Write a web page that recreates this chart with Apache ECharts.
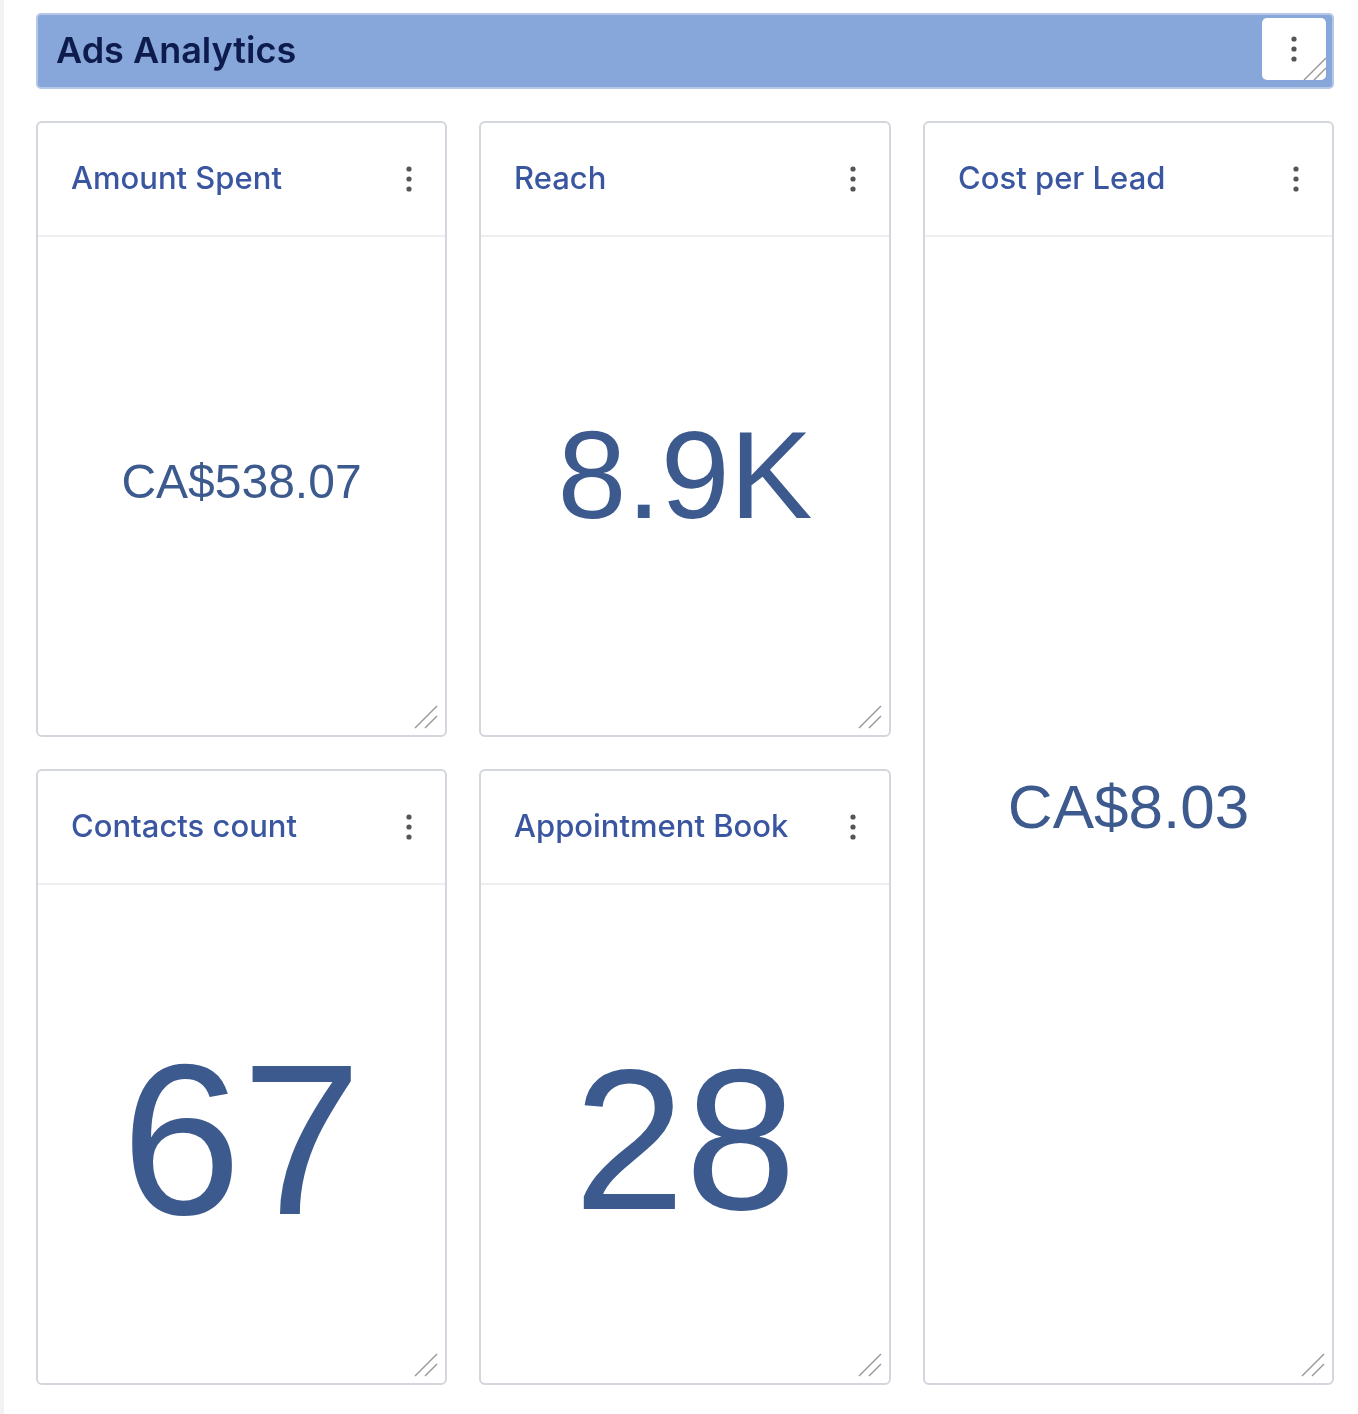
<!DOCTYPE html>
<html><head><meta charset="utf-8">
<script src="https://cdn.jsdelivr.net/npm/echarts@6/dist/echarts.min.js"></script>
<style>html,body{margin:0;padding:0;background:#fff}#c{width:1358px;height:1414px}</style>
</head><body><div id="c"></div>
<script>
const dashboardTitle = "Ads Analytics";
const cardTitles = ["Amount Spent", "Reach", "Cost per Lead", "Contacts count", "Appointment Booked"];
const cardValues = ["CA$538.07", "8.9K", "CA$8.03", "67", "28"];

const chart = echarts.init(document.getElementById('c'));
const TITLE_C = '#3a56a0', VAL_C = '#3d5a8e', BORDER = '#d3d6dc';
const cards = [
  {x:37,y:122,w:409,h:614,fs:48},
  {x:480,y:122,w:410,h:614,fs:124},
  {x:924,y:122,w:409,h:1262,fs:62},
  {x:37,y:770,w:409,h:614,fs:216},
  {x:480,y:770,w:410,h:614,fs:200}
];
const els = [];
els.push({type:'rect',shape:{x:0,y:0,width:4,height:1414},style:{fill:'#f1f2f4'}});
els.push({type:'rect',shape:{x:37,y:14,width:1296,height:74,r:4},style:{fill:'#87a6da',stroke:'#b5c6e6',lineWidth:2}});
els.push({type:'text',style:{x:56,y:52,text:dashboardTitle,fill:'#0e1b4d',font:'600 36px Inter, "Noto Sans", sans-serif',verticalAlign:'middle'}});
els.push({type:'rect',shape:{x:1262,y:18,width:64,height:62,r:5},style:{fill:'#fff'}});
function dots(cx,cy){for(let i=-1;i<=1;i++)els.push({type:'circle',shape:{cx:cx,cy:cy+i*10,r:2.6},style:{fill:'#555'}});}
function handle(x,y){
  els.push({type:'line',shape:{x1:x-22,y1:y,x2:x,y2:y-22},style:{stroke:'#999',lineWidth:1.5}});
  els.push({type:'line',shape:{x1:x-12,y1:y,x2:x,y2:y-12},style:{stroke:'#999',lineWidth:1.5}});
}
dots(1294,49); handle(1326,80);
cards.forEach((c,i)=>{
  els.push({type:'rect',shape:{x:c.x,y:c.y,width:c.w,height:c.h,r:5},style:{fill:'#fff',stroke:BORDER,lineWidth:2}});
  els.push({type:'line',shape:{x1:c.x+1,y1:c.y+114,x2:c.x+c.w-1,y2:c.y+114},style:{stroke:'#e6e8eb',lineWidth:1.5}});
  els.push({type:'text',style:{x:c.x+34,y:c.y+58,text:cardTitles[i],width:291,overflow:'truncate',ellipsis:'',fill:TITLE_C,font:'500 31px Inter, "Noto Sans", sans-serif',verticalAlign:'middle'}});
  dots(c.x+c.w-37,c.y+57);
  handle(c.x+c.w-9,c.y+c.h-8);
  const cy = i===2 ? 811 : c.y+114+(c.h-114)/2 + (c.fs>150?22:0) - (i==0?1:2);
  els.push({type:'text',style:{x:c.x+c.w/2,y:cy,text:cardValues[i],fill:VAL_C,font:c.fs+'px "Liberation Sans", Arial, sans-serif',align:'center',verticalAlign:'middle'}});
});
chart.setOption({animation:false,graphic:{elements:els}});
</script></body></html>
